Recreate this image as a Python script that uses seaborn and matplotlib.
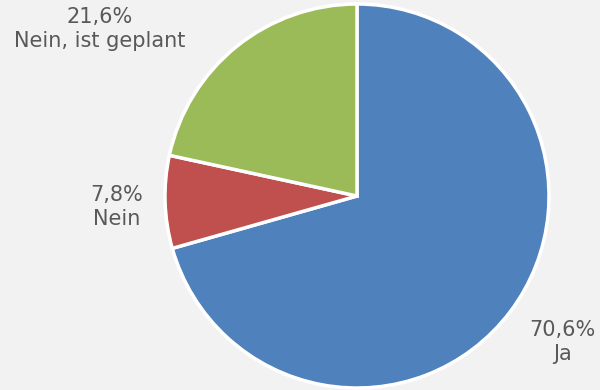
import matplotlib
matplotlib.use("Agg")
import matplotlib.pyplot as plt
import seaborn as sns

categories = ["Ja", "Nein", "Nein, ist geplant"]
values = [70.6, 7.8, 21.6]
value_labels = ["70,6%", "7,8%", "21,6%"]
colors = ["#4f81bd", "#c0504d", "#9bbb59"]

sns.set_theme(style="white")
plt.rcParams["font.family"] = ["DejaVu Sans"]
plt.rcParams["font.sans-serif"] = ["DejaVu Sans"]

bg = "#f2f2f2"
fig = plt.figure(figsize=(6, 3.9), dpi=100, facecolor=bg)
ax = fig.add_axes([0, 0, 1, 1])
ax.set_facecolor(bg)

cx, cy, r = 357, 194, 192
ax.pie(values, colors=colors, startangle=90, counterclock=False, radius=r,
       center=(cx, cy), wedgeprops=dict(edgecolor="white", linewidth=2.5))
ax.set_xlim(0, 600)
ax.set_ylim(0, 390)
ax.set_aspect("equal")
ax.axis("off")

# label anchor positions (pixels from bottom-left)
label_pos = [(562, 48), (117, 183), (100, 361)]
for cat, vl, (x, y) in zip(categories, value_labels, label_pos):
    ax.text(x, y, f"{vl}\n{cat}", ha="center", va="center", fontsize=15,
            family="DejaVu Sans", color="#595959", linespacing=1.3)

fig.savefig("out.png", dpi=100, facecolor=bg)
